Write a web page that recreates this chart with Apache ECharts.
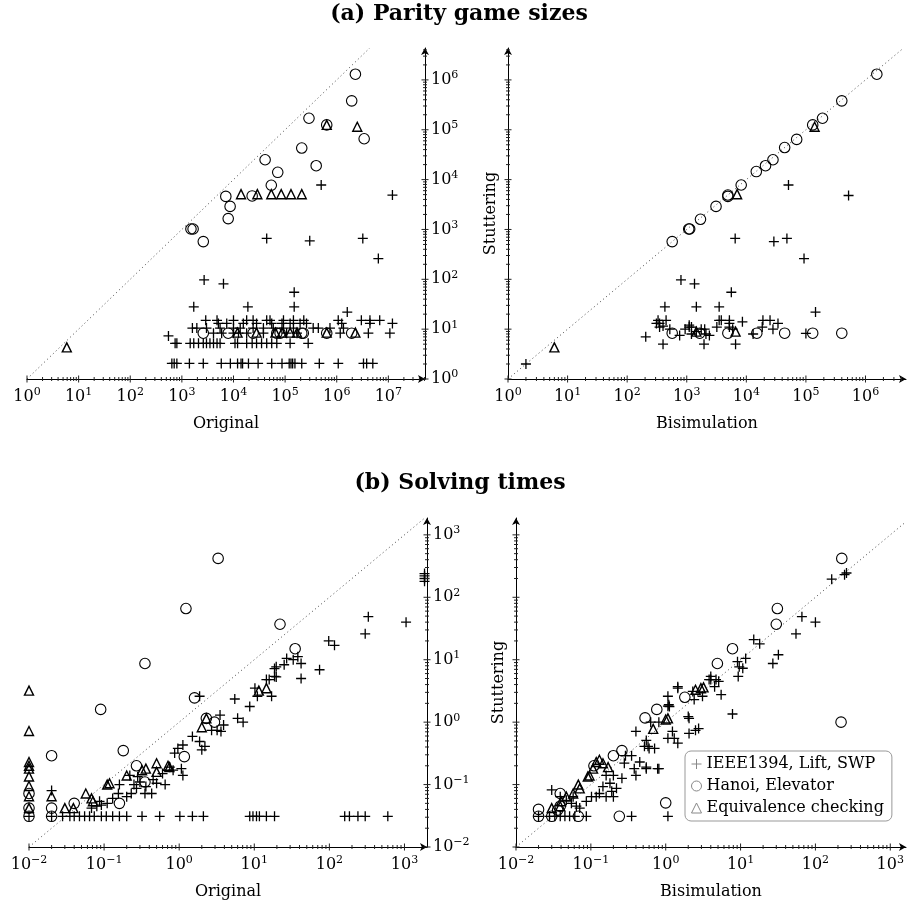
<!DOCTYPE html>
<html><head><meta charset="utf-8">
<script src="https://cdn.jsdelivr.net/npm/echarts@6/dist/echarts.min.js"></script>
<style>html,body{margin:0;padding:0;background:#fff}#c{width:909px;height:905px}</style>
</head><body><div id="c"></div>
<script>
// ---------- (a) Parity game sizes : [x, stuttering] ----------
const sizeOrigIEEE = [
[5e5,7.8e3],[1.2e7,4.9e3],[4.4e4,660],[3e5,590],[3.2e6,660],[6.4e6,260],[2.7e3,97],[6.4e3,81],[1.5e5,55],[1.7e3,28],[1.9e4,28],[1.5e5,28],[1.6e6,22],[550,7.3],
[2.9e3,15],[4.8e3,15],[1e4,15],[1.8e4,15],[2.4e4,15],[4.4e4,15],[5.1e4,15],[9.3e4,15],[1.45e5,15],[2.3e5,15],[1.07e6,15],[3e6,15],[4.4e6,15],[6.8e6,15],
[5.1e3,13],[7.4e3,13],[1.55e4,13],[2.8e4,13],[5.5e4,13],[8.7e4,13],[1.25e5,13],[1.95e5,13],[2.6e5,13],[1.25e6,13],[4.4e6,13],[1.2e7,13],
[1.6e3,10.5],[1.95e3,10.5],[3e3,10.5],[5.5e3,10.5],[1e4,10.5],[1.35e4,10.5],[2.4e4,10.5],[3.8e4,10.5],[5.9e4,10.5],[9.3e4,10.5],[1.45e5,10.5],[3.5e5,10.5],[4.4e5,10.5],[7.4e5,10.5],[1.35e6,10.5],
[4.1e3,8.3],[5.9e3,8.3],[1e4,8.3],[1.25e4,8.3],[1.8e4,8.3],[3.8e4,8.3],[1.07e5,8.3],[1.7e5,8.3],[1.17e6,8.3],[4.1e6,8.3],[1.07e7,8.3],
[740,5.2],[800,5.2],[1.45e3,5.2],[1.7e3,5.2],[2.1e3,5.2],[2.6e3,5.2],[3e3,5.2],[3.5e3,5.2],[4.1e3,5.2],[4.8e3,5.2],[5.5e3,5.2],[1.07e4,5.2],[1.2e4,5.2],[1.8e4,5.2],[2.3e4,5.2],[2.8e4,5.2],[3.5e4,5.2],[4.4e4,5.2],[5.5e4,5.2],[6.9e4,5.2],[1.25e5,5.2],[2.8e5,5.2],
[640,2.05],[710,2.05],[800,2.05],[1.4e3,2.05],[2.6e3,2.05],[5.8e3,2.05],[8.7e3,2.05],[1.2e4,2.05],[1.4e4,2.05],[1.5e4,2.05],[1.95e4,2.05],[3e4,2.05],[5.5e4,2.05],[8.7e4,2.05],[1.2e5,2.05],[1.3e5,2.05],[1.4e5,2.05],[1.55e5,2.05],[2.1e5,2.05],[4.6e5,2.05],[1.07e6,2.05],[3.3e6,2.05],[3.8e6,2.05],[5e6,2.05]
];
const sizeOrigHanoi = [
[2.3e6,1.3e6],[1.95e6,3.8e5],[2.9e5,1.7e5],[6.4e5,1.25e5],[3.4e6,6.6e4],[2.1e5,4.3e4],[4.1e4,2.5e4],[4e5,1.9e4],[7.2e4,1.4e4],[5.4e4,7.7e3],[7.1e3,4.6e3],[2.3e4,4.7e3],[8.6e3,2.9e3],[7.9e3,1.65e3],[1.5e3,1.02e3],[1.65e3,1.02e3],[2.6e3,570],
[2.6e3,8.3],[7.9e3,8.3],[2.4e4,8.3],[6.9e4,8.3],[8e4,8.3],[2.1e5,8.3],[2.25e5,8.3],[6.4e5,8.3],[1.95e6,8.3]
];
const sizeOrigEquiv = [
[6.4e5,1.25e5],[2.5e6,1.15e5],[1.4e4,5.1e3],[2.9e4,5.1e3],[5.4e4,5.1e3],[8.4e4,5.1e3],[1.3e5,5.1e3],[2.1e5,5.1e3],
[1.2e4,8.5],[2.8e4,8.5],[6.5e4,8.5],[8.7e4,8.5],[1.25e5,8.5],[1.7e5,8.5],[6.4e5,8.5],[2.3e6,8.5],[5.9,4.3]
];
const sizeBisimIEEE = [
[5.1e4,7.8e3],[5.2e5,4.8e3],[6.5e3,660],[2.9e4,570],[4.8e4,660],[9.3e4,260],[800,97],[1.35e3,81],[5.6e3,55],[430,28],[1.45e3,28],[3.5e3,28],[1.45e5,22],[2,2],
[330,15],[450,15],[3.8e3,15],[3.5e3,15],[5.2e3,15],[8.6e3,14],[1.9e4,15],[2.5e4,15],
[310,13],[350,13],[5.2e3,13],[3.4e4,13],[1.1e3,12],
[350,11],[400,11.5],[1.1e3,11],[1.2e3,11],[3.2e3,11],[5.2e3,11],[1.85e4,11],
[520,10],[940,10],[1.75e3,10],[2e3,10],[5.9e3,10],[2.8e4,10],[1.45e3,8.9],
[205,7],[760,7.5],[1.2e3,8],[2.1e3,8],[2.4e3,7.5],[1.3e4,8],[1e5,8.2],
[400,5],[1.95e3,5],[6.6e3,5]
];
const sizeBisimHanoi = [
[1.55e6,1.3e6],[4e5,3.8e5],[1.9e5,1.7e5],[1.3e5,1.25e5],[7e4,6.4e4],[4.4e4,4.4e4],[2.8e4,2.5e4],[2.1e4,1.9e4],[1.47e4,1.45e4],[8.2e3,7.8e3],[4.9e3,4.9e3],[4.9e3,4.6e3],[3.1e3,2.9e3],[1.7e3,1.6e3],[1.08e3,1.02e3],[1.12e3,1.02e3],[570,570],
[570,8.3],[1.65e3,8.3],[4.9e3,8.3],[1.5e4,8.3],[4.4e4,8.3],[1.3e5,8.3],[4e5,8.3]
];
const sizeBisimEquiv = [
[1.4e5,1.15e5],[7e3,5.1e3],[1.45e3,8.9],[6.6e3,8.9],[6,4.3]
];

// ---------- (b) Solving times : [x, stuttering] ----------
const timeOrigIEEE = [
[330,49],[1050,40],[300,26],[98,20],[117,17],[1850,180],[1850,200],[1850,220],[1850,240],
[19.6,7.7],[25,8.3],[27,10.5],[33,10],[38,11.2],[42,8.7],[74,6.9],[42,5],[18.6,5.4],
[1.87,2.6],[5.5,2.35],[8.7,1.78],[10.2,3.5],[11,2.6],[14.5,4.8],[15.8,4.8],[18.6,7.2],[19.6,5.3],[17,2.6],
[6,1.15],[7.1,1.0],[2.7,0.74],[3.2,0.74],[3.6,0.71],[3.5,1.3],[3.9,0.9],
[1.5,0.59],[1.87,0.49],[2.2,0.41],[2.0,0.36],[1.12,0.43],[0.96,0.38],[0.87,0.32],
[1.07,0.18],[1.12,0.14],[0.83,0.17],[0.65,0.1],[0.75,0.19],[0.6,0.15],[0.45,0.12],[0.3,0.11],[0.25,0.1],
[0.5,0.105],[0.36,0.093],[0.27,0.087],[0.23,0.072],[0.2,0.064],[0.16,0.1],[0.22,0.14],[0.28,0.134],[0.35,0.072],[0.43,0.072],
[0.155,0.072],[0.13,0.06],[0.11,0.05],[0.092,0.047],[0.08,0.045],[0.068,0.042],[0.087,0.054],
[0.02,0.08],[0.01,0.031],[0.02,0.031],
[0.028,0.031],[0.035,0.031],[0.04,0.031],[0.047,0.031],[0.055,0.031],[0.064,0.031],[0.074,0.031],[0.092,0.031],[0.107,0.031],[0.13,0.031],[0.16,0.031],[0.2,0.031],[0.32,0.031],[0.55,0.031],[1.02,0.031],[1.5,0.031],[2.1,0.031],[8.7,0.031],[9.6,0.031],[10.7,0.031],[11.7,0.031],[14.5,0.031],[18.6,0.031],[160,0.031],[185,0.031],[240,0.031],[300,0.031],[600,0.031]
];
const timeOrigHanoi = [
[3.3,420],[1.23,66],[22,37],[35,15],[0.35,8.7],[0.09,1.6],[1.6,2.45],[2.3,1.15],[2.95,1.0],[0.02,0.29],[1.17,0.28],[0.27,0.2],[0.35,0.11],[0.18,0.35],[0.16,0.05],[0.04,0.05],
[0.01,0.072],[0.01,0.042],[0.01,0.031],[0.02,0.042],[0.02,0.031]
];
const timeOrigEquiv = [
[0.01,3.2],[0.01,0.72],[0.01,0.23],[0.01,0.2],[0.01,0.18],[0.01,0.135],[0.01,0.095],[0.01,0.065],[0.01,0.042],[0.02,0.065],
[11.5,3.2],[14.5,3.5],[2.3,1.15],[2.0,0.83],
[0.5,0.22],[0.71,0.2],[0.74,0.19],[0.5,0.16],[0.36,0.18],[0.32,0.17],
[0.2,0.14],[0.11,0.1],[0.118,0.105],
[0.057,0.072],[0.068,0.06],[0.071,0.054],[0.03,0.042],[0.039,0.042]
];
const timeBisimIEEE = [
[165,195],[245,230],[260,245],[66,49],[100,40],[55,26],[15,21],[18,18],[27,8.7],[32,12],
[9.1,9.3],[9.6,7.7],[10.7,7.3],[11.7,10.5],[9.3,5.4],[4,4.8],
[7.8,1.35],[5.5,2.75],[4.5,3.7],[4.7,4.8],[3.8,4.8],[5.1,4.5],[4,5.4],
[2.4,2.3],[3.1,2.6],[2.3,3.1],[1.45,3.7],[1.07,2.6],[1.1,1.9],[1.07,1.8],[1.45,3.5],[1.12,1.78],
[0.63,1.0],[0.81,1.0],[1.23,0.71],[2.0,1.23],[2.05,0.66],[2.5,0.74],[2.75,0.79],[1.45,0.46],[1.3,0.55],[1.07,0.55],[0.4,0.71],[0.55,0.51],[0.52,0.41],[0.71,0.38],[0.6,0.38],[2.05,1.15],[0.58,0.41],
[0.29,0.29],[0.35,0.29],[0.45,0.23],[0.38,0.18],[0.55,0.19],[0.78,0.18],[0.4,0.14],[0.28,0.22],[0.26,0.126],[0.81,0.18],[0.55,0.18],
[0.16,0.14],[0.2,0.14],[0.18,0.105],[0.145,0.093],[0.19,0.078],[0.2,0.064],[0.13,0.072],[0.118,0.064],[0.102,0.064],[0.16,0.064],[0.22,0.087],
[0.03,0.082],[0.039,0.064],[0.047,0.056],[0.055,0.05],[0.064,0.045],[0.071,0.042],[0.087,0.054],[0.058,0.064],
[0.02,0.031],[0.028,0.031],[0.033,0.031],[0.039,0.031],[0.045,0.031],[0.052,0.031],[0.061,0.031],[0.087,0.031],[0.35,0.031],[1.07,0.031]
];
const timeBisimHanoi = [
[225,420],[31,66],[30,37],[7.8,15],[4.9,8.7],[220,1.0],[1.8,2.5],[0.76,1.6],[0.53,1.17],[0.26,0.35],[0.2,0.29],[0.11,0.2],
[0.039,0.072],[0.039,0.045],[0.036,0.039],[0.02,0.04],[0.02,0.031],[0.03,0.031],[0.068,0.031],[0.24,0.031],[1.0,0.051]
];
const timeBisimEquiv = [
[2.5,3.3],[2.95,3.5],[3.2,3.6],[1.07,1.15],[0.68,0.78],[1.0,1.1],[0.118,0.23],[0.13,0.25],[0.145,0.22],[0.107,0.18],[0.096,0.14],[0.091,0.134],[0.17,0.19],
[0.068,0.1],[0.071,0.087],[0.058,0.072],[0.047,0.064],[0.04,0.054],[0.039,0.045],[0.03,0.042]
];

const seriesNames = ['IEEE1394, Lift, SWP', 'Hanoi, Elevator', 'Equivalence checking'];
const titles = ['(a) Parity game sizes', '(b) Solving times'];
const axisNames = ['Original', 'Bisimulation', 'Stuttering'];

// ---------- layout ----------
const FONT = 'DejaVu Serif';
const L = v => Math.log10(v);
const toLog = arr => arr.map(p => [L(p[0]), L(p[1])]);

const panels = [
  {grid:{left:27, right:484, top:48, bottom:526}, x:[0,7.71], y:[0,6.64], yPos:'right', xName:axisNames[0], yName:'', sets:[sizeOrigIEEE,sizeOrigHanoi,sizeOrigEquiv]},
  {grid:{left:508, right:2, top:48, bottom:526}, x:[0,6.68], y:[0,6.64], yPos:'left', xName:axisNames[1], yName:axisNames[2], sets:[sizeBisimIEEE,sizeBisimHanoi,sizeBisimEquiv]},
  {grid:{left:29, right:482, top:518, bottom:58}, x:[-2,3.30], y:[-2,3.27], yPos:'right', xName:axisNames[0], yName:'', sets:[timeOrigIEEE,timeOrigHanoi,timeOrigEquiv]},
  {grid:{left:516, right:1, top:518, bottom:58}, x:[-2,3.21], y:[-2,3.27], yPos:'left', xName:axisNames[1], yName:axisNames[2], sets:[timeBisimIEEE,timeBisimHanoi,timeBisimEquiv]}
];

function expLabel(v){
  if (Math.abs(v - Math.round(v)) > 1e-6) return '';
  const e = Math.round(v);
  return '{b|10}{s|' + (e < 0 ? '\u2212' + (-e) : e) + '}';
}
const rich = {
  b:{fontFamily:FONT, fontSize:16, color:'#000'},
  s:{fontFamily:FONT, fontSize:11, color:'#000', padding:[0,0,9,0]}
};
function tickVals(min, max){
  const out = [];
  for (let k = Math.floor(min); k <= Math.ceil(max); k++){
    for (let m = 1; m <= 9; m++){
      const v = k + Math.log10(m);
      if (v >= min - 1e-9 && v <= max + 1e-9) out.push([v, m === 1]);
    }
  }
  return out;
}
const axisLineBase = {onZero:false, lineStyle:{color:'#000', width:1}, symbol:['none','arrow'], symbolSize:[6,7]};
const nameStyle = {fontFamily:FONT, fontSize:16, color:'#000'};

const PLUS = 'path://M5,0L5,10M0,5L10,5';
const symbols = [
  {symbol:PLUS, symbolSize:10, itemStyle:{color:'transparent', borderColor:'#000', borderWidth:1.3, opacity:1}},
  {symbol:'circle', symbolSize:10.5, itemStyle:{color:'transparent', borderColor:'#000', borderWidth:1.1, opacity:1}},
  {symbol:'triangle', symbolSize:9, itemStyle:{color:'transparent', borderColor:'#000', borderWidth:1.4, opacity:1}}
];
const titleStyle = {fontFamily:FONT, fontSize:22, fontWeight:'bold', color:'#000'};

const option = {
  animation:false,
  backgroundColor:'#fff',
  title: [
    {text:titles[0], left:459, top:3, padding:0, textAlign:'center', textStyle:titleStyle},
    {text:titles[1], left:460, top:472, padding:0, textAlign:'center', textStyle:titleStyle}
  ],
  legend: {
    orient:'vertical', left:685, top:751, padding:[5,8,5,6], itemGap:6,
    itemWidth:10, itemHeight:10,
    backgroundColor:'#fff', borderColor:'#999', borderWidth:1, borderRadius:6,
    textStyle:{fontFamily:FONT, fontSize:16, color:'#000'},
    itemStyle:{borderColor:'#888', borderWidth:1},
    data: seriesNames.map(n => ({name:n, itemStyle:{borderColor:'#888', borderWidth:1}}))
  },
  grid: panels.map(p => p.grid),
  xAxis: panels.map((p, i) => ({
    type:'value', gridIndex:i, min:p.x[0], max:p.x[1], interval:1,
    name:p.xName, nameLocation:'middle', nameGap:37, nameTextStyle:nameStyle,
    axisLine:axisLineBase, axisTick:{show:false}, splitLine:{show:false},
    axisLabel:{formatter:expLabel, rich, margin:8}
  })),
  yAxis: panels.map((p, i) => ({
    type:'value', gridIndex:i, min:p.y[0], max:p.y[1], interval:1, position:p.yPos,
    name:p.yName, nameLocation:'middle', nameGap:9, nameRotate:90, nameTextStyle:nameStyle,
    axisLine:axisLineBase, axisTick:{show:false}, splitLine:{show:false},
    axisLabel:{show:p.yPos === 'right', formatter:expLabel, rich, margin:6}
  })),
  series: []
};

panels.forEach((p, i) => {
  const d = Math.min(p.x[1], p.y[1]);
  option.series.push({
    type:'line', xAxisIndex:i, yAxisIndex:i, silent:true, symbol:'none', z:1,
    data:[[p.x[0], p.y[0]], [d, d]],
    lineStyle:{type:[1,3], color:'#444', width:1}
  });
  // axis ticks (log minor ticks)
  const yLineX = p.yPos === 'right' ? p.x[1] : p.x[0];
  const tdata = tickVals(p.x[0], p.x[1]).map(([v, maj]) => ({value:[v, p.y[0]], symbolSize: maj ? [1,7] : [1,4]}))
    .concat(tickVals(p.y[0], p.y[1]).map(([v, maj]) => ({value:[yLineX, v], symbolSize: maj ? [7,1] : [4,1]})));
  option.series.push({
    type:'scatter', xAxisIndex:i, yAxisIndex:i, silent:true, clip:false, symbol:'rect', z:4,
    itemStyle:{color:'#222', opacity:1}, data:tdata
  });
  p.sets.forEach((set, k) => {
    option.series.push(Object.assign({
      type:'scatter', name:seriesNames[k], xAxisIndex:i, yAxisIndex:i, clip:false, z:3,
      data: toLog(set)
    }, symbols[k]));
  });
});

const chart = echarts.init(document.getElementById('c'), null, {renderer:'canvas'});
chart.setOption(option);
</script>
</body></html>
